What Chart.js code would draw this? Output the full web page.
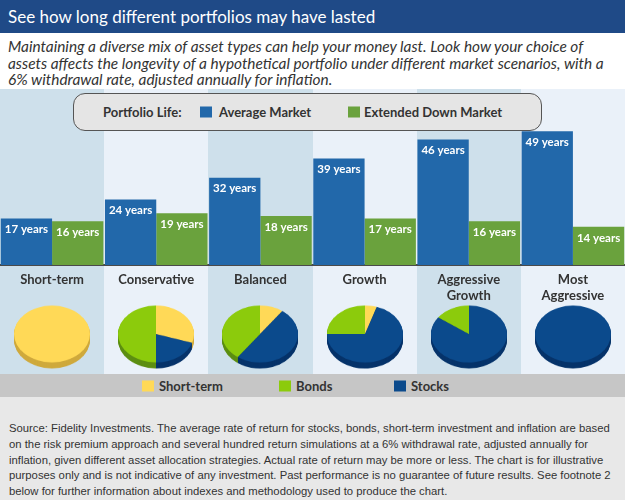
<!DOCTYPE html>
<html>
<head>
<meta charset="utf-8">
<script src="https://cdn.jsdelivr.net/npm/chart.js@4.4.0/dist/chart.umd.min.js"></script>
<style>
  body { margin: 0; width: 625px; height: 500px; position: relative; overflow: hidden; background: #fff; font-family: Lato, 'Open Sans', sans-serif; }
  #title { position: absolute; left: 0; top: 0; width: 625px; height: 33px; background: #1f4a87; color: #fff; font-size: 17px; line-height: 34px; padding-left: 8px; box-sizing: border-box; }
  #sub { position: absolute; left: 8px; top: 38px; width: 617px; font-style: italic; font-size: 15.4px; line-height: 16.7px; color: #333; white-space: nowrap; }
  #main { position: absolute; left: 0; top: 89px; }
  #legend { position: absolute; left: 73px; top: 93px; width: 469px; height: 38px; box-sizing: border-box; background: #e5e5e5; border: 1.5px solid #555; border-radius: 12px; font-weight: bold; font-size: 13px; color: #333; }
  #legend span, #keys span { position: absolute; top: 50%; transform: translateY(-50%); white-space: nowrap; }
  #legend i, #keys i { position: absolute; top: 50%; transform: translateY(-50%); width: 12px; height: 11px; }
  .pie { position: absolute; top: 304px; width: 80px; height: 90px; transform: scaleY(0.75); transform-origin: top; }
  #keys { position: absolute; left: 0; top: 374px; width: 625px; height: 23px; background: #c6c6c6; font-weight: bold; font-size: 13px; color: #333; }
  #note { position: absolute; left: 0; top: 397px; width: 625px; height: 103px; background: #e8e8e8; box-sizing: border-box; padding: 24px 0 0 9px; font-family: 'Liberation Sans', Arial, sans-serif; font-size: 11.3px; line-height: 15.8px; color: #333; white-space: nowrap; }
</style>
</head>
<body>
<div id="title">See how long different portfolios may have lasted</div>
<div id="sub">Maintaining a diverse mix of asset types can help your money last. Look how your choice of<br>assets affects the longevity of a hypothetical portfolio under different market scenarios, with a<br>6% withdrawal rate, adjusted annually for inflation.</div>
<canvas id="main" width="625" height="286"></canvas>
<div id="legend"></div>
<div id="keys"></div>
<div id="note">Source: Fidelity Investments. The average rate of return for stocks, bonds, short-term investment and inflation are based<br>on the risk premium approach and several hundred return simulations at a 6% withdrawal rate, adjusted annually for<br>inflation, given different asset allocation strategies. Actual rate of return may be more or less. The chart is for illustrative<br>purposes only and is not indicative of any investment. Past performance is no guarantee of future results. See footnote 2<br>below for further information about indexes and methodology used to produce the chart.</div>
<script>
// portfolios and how long each lasted (years)
const portfolios = ['Short-term', 'Conservative', 'Balanced', 'Growth', ['Aggressive', 'Growth'], ['Most', 'Aggressive']];
const averageMarket = [17, 24, 32, 39, 46, 49];
const downMarket = [16, 19, 18, 17, 16, 14];
const seriesNames = ['Average Market', 'Extended Down Market'];
const seriesColors = ['#2268aa', '#6aa23d'];

// asset mix per portfolio, % (slices go clockwise from 12 o'clock)
const assetNames = ['Short-term', 'Stocks', 'Bonds'];
const shortTermPct = [100, 30, 10, 5, 0, 0];
const stocksPct = [0, 20, 50, 70, 85, 100];
const bondsPct = [0, 50, 40, 25, 15, 0];
const assetColors = ['#ffd957', '#0b4a8c', '#8ccb0c'];
const rimColors = ['#cfa93c', '#06336a', '#5c8e12'];
const keyOrder = [0, 2, 1]; // bottom key: Short-term, Bonds, Stocks

const bandColors = ['#cee0eb', '#eaf1f9'];

const bands = {
  id: 'bands',
  beforeDraw(chart) {
    const { ctx } = chart;
    const x = chart.scales.x;
    const w = x.width / portfolios.length;
    ctx.save();
    portfolios.forEach((p, i) => {
      const cx = x.getPixelForValue(i);
      ctx.fillStyle = bandColors[i % 2];
      ctx.fillRect(Math.round(cx - w / 2), 0, Math.ceil(w), chart.height);
    });
    ctx.restore();
  }
};

const barLabels = {
  id: 'barLabels',
  afterDatasetsDraw(chart) {
    const { ctx } = chart;
    ctx.save();
    ctx.fillStyle = '#fff';
    ctx.font = 'bold 11.5px Lato, sans-serif';
    ctx.textAlign = 'center';
    ctx.textBaseline = 'middle';
    chart.data.datasets.forEach((ds, d) => {
      chart.getDatasetMeta(d).data.forEach((bar, i) => {
        ctx.fillText(ds.data[i] + ' years', bar.x, bar.y + 11);
      });
    });
    ctx.restore();
  }
};

const mainChart = new Chart(document.getElementById('main'), {
  type: 'bar',
  data: {
    labels: portfolios,
    datasets: [
      { label: seriesNames[0], data: averageMarket, backgroundColor: seriesColors[0] },
      { label: seriesNames[1], data: downMarket, backgroundColor: seriesColors[1] },
    ],
  },
  options: {
    responsive: false,
    animation: false,
    layout: { padding: 0 },
    categoryPercentage: 0.985,
    barPercentage: 1,
    scales: {
      x: {
        grid: { display: false },
        border: { display: true, color: '#4a4a4a', width: 2 },
        ticks: { color: '#333', font: { family: 'Lato', weight: 'bold', size: 13 }, padding: -1, maxRotation: 0 },
        afterFit: (axis) => { axis.height = 110; },
      },
      y: { display: false, min: 0, max: 64.5 },
    },
    plugins: { legend: { display: false }, tooltip: { enabled: false } },
  },
  plugins: [bands, barLabels],
});

// top legend box
const legend = document.getElementById('legend');
legend.innerHTML =
  '<span style="left:29px">Portfolio Life:</span>' +
  `<i style="left:126px;background:${seriesColors[0]}"></i><span style="left:145px">${seriesNames[0]}</span>` +
  `<i style="left:274px;background:${seriesColors[1]}"></i><span style="left:290px">${seriesNames[1]}</span>`;

// bottom key
const keyPos = [142, 279, 394];
document.getElementById('keys').innerHTML = keyOrder.map((k, j) =>
  `<i style="left:${keyPos[j]}px;background:${assetColors[k]}"></i><span style="left:${keyPos[j] + 17}px">${assetNames[k]}</span>`
).join('');

// 3d-ish rim under each pie
const rim = {
  id: 'rim',
  beforeDatasetsDraw(chart) {
    const { ctx } = chart;
    const meta = chart.getDatasetMeta(0);
    ctx.save();
    for (let off = 8; off > 0; off--) {
      meta.data.forEach((arc, i) => {
        const a = arc.getProps(['x', 'y', 'startAngle', 'endAngle', 'outerRadius']);
        if (a.endAngle - a.startAngle <= 0) return;
        ctx.fillStyle = rimColors[i];
        ctx.beginPath();
        ctx.moveTo(a.x, a.y + off);
        ctx.arc(a.x, a.y + off, a.outerRadius, a.startAngle, a.endAngle);
        ctx.closePath();
        ctx.fill();
      });
    }
    ctx.restore();
  }
};

portfolios.forEach((p, i) => {
  const wrap = document.createElement('div');
  wrap.className = 'pie';
  wrap.style.left = (mainChart.scales.x.getPixelForValue(i) - 40) + 'px';
  const cv = document.createElement('canvas');
  cv.width = 80;
  cv.height = 90;
  wrap.appendChild(cv);
  document.body.appendChild(wrap);
  new Chart(cv, {
    type: 'pie',
    data: {
      labels: assetNames,
      datasets: [{
        data: [shortTermPct[i], stocksPct[i], bondsPct[i]],
        backgroundColor: assetColors,
        borderWidth: 0,
      }],
    },
    options: {
      responsive: false,
      animation: false,
      layout: { padding: { top: 2, left: 2, right: 2, bottom: 12 } },
      plugins: { legend: { display: false }, tooltip: { enabled: false } },
    },
    plugins: [rim],
  });
});
</script>
</body>
</html>
